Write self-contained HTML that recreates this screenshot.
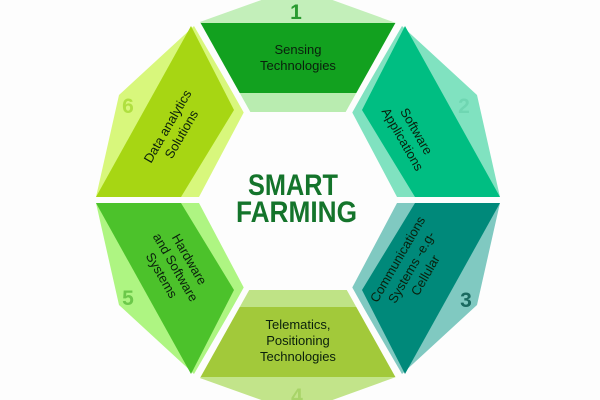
<!DOCTYPE html>
<html><head><meta charset="utf-8"><style>
html,body{margin:0;padding:0;background:#fdfdfd;}
svg{display:block;font-family:"Liberation Sans",sans-serif;}
</style></head><body>
<svg width="600" height="400" viewBox="0 0 600 400" xmlns="http://www.w3.org/2000/svg">
<!-- seg1 top -->
<polygon points="197,23 267,-2 327,-2 396,23" fill="#c3efba"/>
<polygon points="197,23 396,23 357,93 237,93" fill="#12a11f"/>
<polygon points="237,93 357,93 347,112 247,112" fill="#b9ecb0"/>
<!-- seg4 bottom -->
<polygon points="197,377 267,402 327,402 396,377" fill="#c2e48a"/>
<polygon points="197,377 396,377 357,307 237,307" fill="#a2c93a"/>
<polygon points="237,307 357,307 347,290 247,290" fill="#bfe386"/>
<!-- seg2 -->
<polygon points="402,26 477,95 500,197 397,197 352,112" fill="#80e2c0"/>
<polygon points="405,26 500,197 415,197 362,110" fill="#00be82"/>
<g transform="translate(596,0) scale(-1,1)">
<polygon points="402,26 477,95 500,197 397,197 352,112" fill="#d8f77c"/>
<polygon points="405,26 500,197 415,197 362,110" fill="#a7d613"/>
</g>
<g transform="translate(0,400) scale(1,-1)">
<polygon points="402,26 477,95 500,197 397,197 352,112" fill="#80c9c1"/>
<polygon points="405,26 500,197 415,197 362,110" fill="#00897a"/>
</g>
<g transform="translate(596,400) scale(-1,-1)">
<polygon points="402,26 477,95 500,197 397,197 352,112" fill="#aef582"/>
<polygon points="405,26 500,197 415,197 362,110" fill="#4cc22b"/>
</g>
<g stroke="#fdfdfd" stroke-width="6">
<line x1="405" y1="12" x2="348" y2="114"/>
<line x1="191" y1="12" x2="248" y2="114"/>
<line x1="405" y1="388" x2="348" y2="286"/>
<line x1="191" y1="388" x2="248" y2="286"/>
<line x1="80" y1="200" x2="200" y2="200"/>
<line x1="396" y1="200" x2="520" y2="200"/>
</g>
<polygon points="248,113 348,113 398,200 348,288 248,288 198,200" fill="#fdfdfd"/>
<text x="248" y="195" textLength="90" lengthAdjust="spacingAndGlyphs" font-weight="bold" font-size="30" fill="#14742b">SMART</text>
<text x="236" y="222" textLength="121" lengthAdjust="spacingAndGlyphs" font-weight="bold" font-size="30" fill="#14742b">FARMING</text>
<g font-size="21" text-anchor="middle" font-weight="bold">
<text x="296" y="19" fill="#2a9a30">1</text>
<text x="464" y="113" fill="#6fd6b2">2</text>
<text x="466" y="307" fill="#1a6a60">3</text>
<text x="297" y="403" fill="#a8d468">4</text>
<text x="128" y="305" fill="#6cc84a">5</text>
<text x="128" y="113" fill="#b0e040">6</text>
</g>
<g font-size="13" text-anchor="middle" fill="#0a200c">
<text x="298" y="54">Sensing</text>
<text x="298" y="70">Technologies</text>
<text x="298" y="329">Telematics,</text>
<text x="298" y="345">Positioning</text>
<text x="298" y="361">Technologies</text>
<g transform="translate(410,135) rotate(60)"><text y="-3">Software</text><text y="13">Applications</text></g>
<g transform="translate(174,130) rotate(-60)"><text y="-3">Data analytics</text><text y="13">Solutions</text></g>
<g transform="translate(411,267) rotate(-60)"><text y="-11">Communications</text><text y="5">Systems -e.g-</text><text y="21">Cellular</text></g>
<g transform="translate(176,267) rotate(60)"><text y="-11">Hardware</text><text y="5">and Software</text><text y="21">Systems</text></g>
</g>
</svg>
</body></html>
